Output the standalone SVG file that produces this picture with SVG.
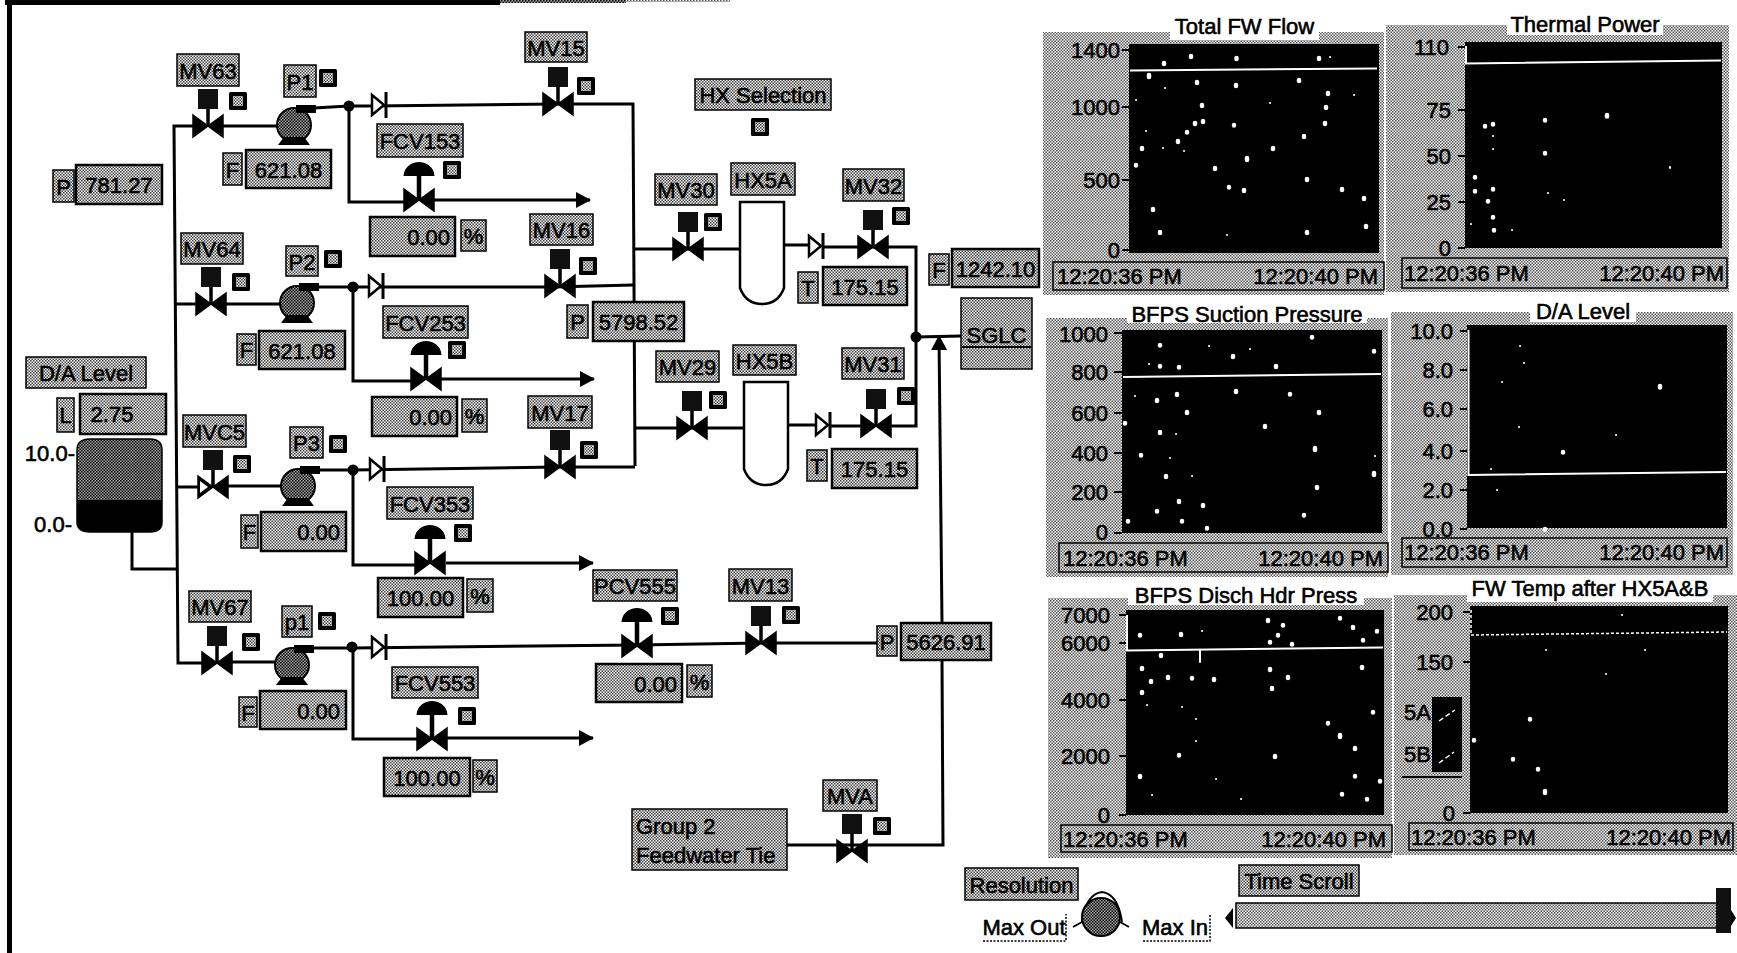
<svg xmlns="http://www.w3.org/2000/svg" xmlns:xlink="http://www.w3.org/1999/xlink" width="1737" height="953" viewBox="0 0 1737 953">
<style>
text{font-family:"Liberation Sans",Arial,sans-serif;font-size:22px;fill:#000;text-anchor:middle;dominant-baseline:central}
.t{stroke:#000;stroke-width:.6}
.e{text-anchor:end}
.s{text-anchor:start}
.l{fill:url(#d);stroke:#000;stroke-width:1.5}
.v{fill:url(#d);stroke:#000;stroke-width:2.5}
.pipe{fill:none;stroke:#000;stroke-width:3}
.arr{marker-end:url(#ah)}
.g{fill:url(#d2)}
.p{fill:#000}
.w{fill:none;stroke:#fff;stroke-width:2}
.dots{fill:none;stroke:#fff;stroke-width:4.5;stroke-linecap:round}
.sm{fill:none;stroke:#fff;stroke-width:2;stroke-linecap:round}
.tk{fill:none;stroke:#000;stroke-width:2}
.ttl{fill:#fff}
.ts{fill:none;stroke:#000;stroke-width:1.5}
</style>
<defs>
<pattern id="d" width="3" height="3" patternUnits="userSpaceOnUse"><rect width="3" height="3" fill="#fff"/><rect width="1.5" height="1.5" fill="#3c3c3c"/><rect x="1.5" y="1.5" width="1.5" height="1.5" fill="#3c3c3c"/></pattern>
<pattern id="d2" width="3" height="3" patternUnits="userSpaceOnUse"><rect width="3" height="3" fill="#fff"/><rect width="1.5" height="1.5" fill="#505050"/><rect x="1.5" y="1.5" width="1.5" height="1.5" fill="#505050"/></pattern>
<pattern id="d3" width="3" height="3" patternUnits="userSpaceOnUse"><rect width="3" height="3" fill="#a8a8a8"/><rect width="1.5" height="1.5" fill="#000"/><rect x="1.5" y="1.5" width="1.5" height="1.5" fill="#000"/></pattern>
<marker id="ah" markerUnits="userSpaceOnUse" markerWidth="16" markerHeight="18" refX="14" refY="8" orient="auto"><path d="M0 0L15 8L0 16Z" fill="#000"/></marker>
<g id="bow"><path d="M-15-11L0 0L-15 11ZM15-11L0 0L15 11Z" fill="#000" stroke="#000" stroke-width="1.5"/></g>
<g id="mv"><use href="#bow"/><path d="M0 0V-20" stroke="#000" stroke-width="3.5"/><rect x="-10" y="-37" width="20" height="20" fill="#111"/></g>
<g id="cv"><use href="#bow"/><path d="M0 0V-24" stroke="#000" stroke-width="4.5"/><path d="M-15.500-24C-15-34-6-38 0-38C6-38 15-34 15.500-24Z" fill="#000"/></g>
<g id="pump"><circle r="17" fill="url(#d3)" stroke="#000" stroke-width="2"/><rect x="2" y="-20" width="20" height="8" fill="#000"/><path d="M-10 12L10 12L16 20H-16Z" fill="#000"/></g>
<g id="chk"><path d="M-7-10L5 0L-7 10Z" fill="#fff" stroke="#000" stroke-width="2.500"/><path d="M7-13V13" stroke="#000" stroke-width="3"/></g>
<g id="sb"><rect width="18" height="18" rx="1.500" fill="#000"/><rect x="4" y="4" width="10" height="10" fill="url(#d)"/></g>
</defs>
<rect width="1737" height="953" fill="#fff"/>
<g id="frame"><rect x="7" y="0" width="5" height="953" fill="#000"/><rect x="5" y="0" width="495" height="5" fill="#000"/><rect x="500" y="0" width="126" height="3" fill="url(#d3)"/><rect x="626" y="0" width="104" height="2" fill="url(#d2)"/></g>

<g id="connectors">
<path class="pipe" d="M132 532V569H177"/>
<path class="pipe" d="M193 126H174L178 663H202"/>
<path class="pipe" d="M174 304H196"/><path class="pipe" d="M176 487H198"/>
<path class="pipe" d="M223 126H278"/><path class="pipe" d="M226 304H281"/><path class="pipe" d="M228 486H282"/><path class="pipe" d="M232 662H276"/>
<path class="pipe" d="M314 108L349 106H372L558 104H633L635 466"/>
<path class="pipe" d="M317 287H553L633 285"/>
<path class="pipe" d="M318 470H353L557 467H635"/>
<path class="pipe" d="M312 648H352L637 645L761 643H877"/>
<path class="pipe arr" d="M349 106V202H404M434 200H590"/>
<path class="pipe arr" d="M353 287V381H411M441 379H594"/>
<path class="pipe arr" d="M353 470V565H415M446 563H593"/>
<path class="pipe arr" d="M353 647V739H417M447 738H593"/>
<path class="pipe" d="M634 249H740"/><path class="pipe" d="M636 428H744"/>
<path class="pipe" d="M784 245H809M823 247H888H916V426H891"/><path class="pipe" d="M788 425H816M830 426H861"/>
<path class="pipe" d="M916 337L961 336"/>
<path class="pipe" d="M787 845H852H943L942 660"/>
<path class="pipe arr" d="M942 623L939 336"/>
</g>

<g id="pi-suction"><rect class="l" x="53" y="170" width="21" height="32"/><text class="t" x="63.500" y="187">P</text><rect class="v" x="76" y="165" width="86" height="39"/><text class="t" x="119" y="185">781.27</text></g>
<g id="da-tank">
<rect class="l" x="26" y="357" width="120" height="31"/><text class="t" x="86" y="373">D/A Level</text>
<rect class="l" x="57" y="398" width="17" height="34"/><text class="t" x="65.500" y="415">L</text>
<rect class="v" x="80" y="394" width="86" height="40"/><text class="t" x="112" y="414">2.75</text>
<text class="t e" x="75" y="453">10.0-</text><text class="t e" x="72" y="524">0.0-</text>
<path d="M77 450Q77 439 90 439H150Q162 439 162 450V522Q162 532 150 532H90Q77 532 77 522Z" fill="url(#d3)" stroke="#000" stroke-width="1.500"/>
<path d="M77 500H162V522Q162 532 150 532H90Q77 532 77 522Z" fill="#000"/>
</g>

<g id="mv63"><rect class="l" x="177" y="54" width="62" height="32"/><text class="t" x="208" y="71">MV63</text><use href="#mv" x="208" y="126"/><use href="#sb" x="229" y="92"/></g>
<g id="p1"><rect class="l" x="284" y="65" width="32" height="32"/><text class="t" x="300" y="82">P1</text><use href="#sb" x="319" y="69"/><use href="#pump" x="294" y="125"/></g>
<g id="f1"><rect class="l" x="223" y="153" width="19" height="32"/><text class="t" x="232.500" y="170">F</text><rect class="v" x="246" y="150" width="85" height="38"/><text class="t" x="288.500" y="170">621.08</text></g>
<g id="chk1"><use href="#chk" x="379" y="105"/><circle cx="349" cy="106" r="5.500"/></g>
<g id="fcv153"><rect class="l" x="377" y="124" width="86" height="33"/><text class="t" x="420" y="141">FCV153</text><use href="#cv" x="419" y="200"/><use href="#sb" x="443" y="161"/><rect class="v" x="370" y="217" width="85" height="39"/><text class="t e" x="450" y="237">0.00</text><rect class="l" x="461" y="220" width="25" height="31"/><text class="t" x="473.500" y="236">%</text></g>
<g id="mv15"><rect class="l" x="525" y="32" width="62" height="30"/><text class="t" x="556" y="48">MV15</text><use href="#mv" x="558" y="104"/><use href="#sb" x="577" y="77"/></g>

<g id="mv64"><rect class="l" x="181" y="233" width="62" height="31"/><text class="t" x="212" y="249">MV64</text><use href="#mv" x="211" y="304"/><use href="#sb" x="232" y="273"/></g>
<g id="p2"><rect class="l" x="286" y="246" width="32" height="30"/><text class="t" x="302" y="262">P2</text><use href="#sb" x="324" y="250"/><use href="#pump" x="297" y="303"/></g>
<g id="f2"><rect class="l" x="237" y="334" width="19" height="31"/><text class="t" x="246.500" y="350">F</text><rect class="v" x="259" y="331" width="86" height="38"/><text class="t" x="302" y="351">621.08</text></g>
<g id="chk2"><use href="#chk" x="376" y="286"/><circle cx="353" cy="287" r="5.500"/></g>
<g id="fcv253"><rect class="l" x="383" y="306" width="85" height="32"/><text class="t" x="425.500" y="323">FCV253</text><use href="#cv" x="426" y="379"/><use href="#sb" x="448" y="341"/><rect class="v" x="372" y="397" width="85" height="39"/><text class="t e" x="452" y="417">0.00</text><rect class="l" x="462" y="399" width="25" height="33"/><text class="t" x="474.500" y="416">%</text></g>
<g id="mv16"><rect class="l" x="530" y="214" width="63" height="31"/><text class="t" x="561.500" y="230">MV16</text><use href="#mv" x="560" y="286"/><use href="#sb" x="579" y="257"/></g>

<g id="mv65"><rect class="l" x="183" y="415" width="63" height="32"/><text class="t" x="214.500" y="432">MVC5</text><use href="#mv" x="213" y="487"/><path d="M200 481L208 487L200 493Z" fill="#fff"/><use href="#sb" x="233" y="455"/></g>
<g id="p3"><rect class="l" x="290" y="427" width="33" height="31"/><text class="t" x="306.500" y="443">P3</text><use href="#sb" x="329" y="435"/><use href="#pump" x="298" y="486"/></g>
<g id="f3"><rect class="l" x="241" y="515" width="17" height="33"/><text class="t" x="249.500" y="532">F</text><rect class="v" x="261" y="512" width="85" height="39"/><text class="t e" x="340" y="532">0.00</text></g>
<g id="chk3"><use href="#chk" x="377" y="469"/><circle cx="353" cy="470" r="5.500"/></g>
<g id="fcv353"><rect class="l" x="387" y="487" width="86" height="32"/><text class="t" x="430" y="504">FCV353</text><use href="#cv" x="430" y="563"/><use href="#sb" x="454" y="524"/><rect class="v" x="378" y="578" width="85" height="39"/><text class="t" x="420.500" y="598">100.00</text><rect class="l" x="467" y="579" width="26" height="33"/><text class="t" x="480" y="596">%</text></g>
<g id="mv17"><rect class="l" x="528" y="396" width="64" height="32"/><text class="t" x="560" y="413">MV17</text><use href="#mv" x="560" y="467"/><use href="#sb" x="580" y="441"/></g>

<g id="mv67"><rect class="l" x="189" y="591" width="62" height="31"/><text class="t" x="220" y="607">MV67</text><use href="#mv" x="217" y="663"/><use href="#sb" x="242" y="633"/></g>
<g id="p4"><rect class="l" x="282" y="606" width="30" height="31"/><text class="t" x="297" y="622">p1</text><use href="#sb" x="318" y="612"/><use href="#pump" x="292" y="665"/></g>
<g id="f4"><rect class="l" x="239" y="697" width="18" height="30"/><text class="t" x="248" y="713">F</text><rect class="v" x="260" y="691" width="86" height="38"/><text class="t e" x="340" y="711">0.00</text></g>
<g id="chk4"><use href="#chk" x="379" y="647"/><circle cx="352" cy="647" r="5.500"/></g>
<g id="fcv553"><rect class="l" x="392" y="667" width="86" height="31"/><text class="t" x="435" y="683">FCV553</text><use href="#cv" x="432" y="739"/><use href="#sb" x="458" y="707"/><rect class="v" x="384" y="758" width="86" height="38"/><text class="t" x="427" y="778">100.00</text><rect class="l" x="473" y="760" width="24" height="32"/><text class="t" x="485" y="777">%</text></g>

<g id="pcv555"><rect class="l" x="593" y="570" width="84" height="31"/><text class="t" x="635" y="586">PCV555</text><use href="#cv" x="637" y="646"/><use href="#sb" x="661" y="607"/><rect class="v" x="596" y="664" width="86" height="38"/><text class="t e" x="677" y="684">0.00</text><rect class="l" x="687" y="665" width="25" height="32"/><text class="t" x="699.500" y="682">%</text></g>
<g id="mv13"><rect class="l" x="729" y="569" width="63" height="32"/><text class="t" x="760.500" y="586">MV13</text><use href="#mv" x="761" y="643"/><use href="#sb" x="782" y="606"/></g>
<g id="p-hdr2"><rect class="l" x="877" y="626" width="20" height="30"/><text class="t" x="887" y="642">P</text><rect class="v" x="901" y="623" width="90" height="37"/><text class="t" x="946" y="642">5626.91</text></g>

<g id="group2"><rect class="l" x="632" y="809" width="155" height="61"/><text class="t s" x="636" y="826">Group  2</text><text class="t s" x="636" y="855">Feedwater Tie</text></g>
<g id="mva"><rect class="l" x="823" y="780" width="54" height="31"/><text class="t" x="850" y="796">MVA</text><use href="#mv" x="852" y="851"/><use href="#sb" x="873" y="817"/></g>

<g id="hx-selection"><rect class="l" x="695" y="79" width="136" height="31"/><text class="t" x="763" y="95">HX Selection</text><use href="#sb" x="751" y="118"/></g>
<g id="p-hdr"><rect class="l" x="567" y="305" width="21" height="33"/><text class="t" x="577.500" y="322">P</text><rect class="v" x="593" y="302" width="91" height="39"/><text class="t" x="638.500" y="322">5798.52</text></g>
<g id="mv30"><rect class="l" x="655" y="174" width="62" height="31"/><text class="t" x="686" y="190">MV30</text><use href="#mv" x="688" y="249"/><use href="#sb" x="704" y="213"/></g>
<g id="hx5a"><rect class="l" x="731" y="163" width="64" height="32"/><text class="t" x="763" y="180">HX5A</text><path d="M740 202H784V288Q778 304 762 304Q746 304 740 288Z" fill="#fff" stroke="#000" stroke-width="2.500"/></g>
<g id="chk5"><use href="#chk" x="816" y="246"/></g>
<g id="mv32"><rect class="l" x="843" y="169" width="61" height="32"/><text class="t" x="873.500" y="186">MV32</text><use href="#mv" x="873" y="247"/><use href="#sb" x="892" y="207"/></g>
<g id="t1"><rect class="l" x="798" y="272" width="20" height="31"/><text class="t" x="808" y="288">T</text><rect class="v" x="823" y="267" width="84" height="38"/><text class="t" x="865" y="287">175.15</text></g>
<g id="mv29"><rect class="l" x="656" y="351" width="63" height="31"/><text class="t" x="687.500" y="367">MV29</text><use href="#mv" x="692" y="428"/><use href="#sb" x="709" y="391"/></g>
<g id="hx5b"><rect class="l" x="733" y="345" width="63" height="30"/><text class="t" x="764.500" y="361">HX5B</text><path d="M744 382H788V469Q782 485 766 485Q750 485 744 469Z" fill="#fff" stroke="#000" stroke-width="2.500"/></g>
<g id="chk6"><use href="#chk" x="823" y="425"/></g>
<g id="mv31"><rect class="l" x="842" y="348" width="62" height="31"/><text class="t" x="873" y="364">MV31</text><use href="#mv" x="876" y="426"/><use href="#sb" x="897" y="387"/></g>
<g id="t2"><rect class="l" x="807" y="450" width="20" height="31"/><text class="t" x="817" y="466">T</text><rect class="v" x="832" y="449" width="85" height="39"/><text class="t" x="874.500" y="469">175.15</text></g>
<g id="f-total"><rect class="l" x="929" y="254" width="20" height="31"/><text class="t" x="939" y="270">F</text><rect class="v" x="952" y="249" width="87" height="38"/><text class="t" x="995.500" y="269">1242.10</text></g>
<g id="sglc"><rect class="l" x="961" y="298" width="71" height="71"/><path d="M962 347H1031" stroke="#000" stroke-width="2"/><text class="t" x="996.500" y="335">SGLC</text><circle cx="916" cy="337" r="5.500"/></g>

<g id="chart-fw-flow">
<rect class="g" x="1043" y="32" width="341" height="263"/><rect class="p" x="1129" y="44" width="250" height="209"/>
<path class="w" d="M1130 70.500L1377 68.500"/>
<path class="dots" d="M1164 63v1M1191 56v1M1236.500 58v1M1319 58v1M1149 75v2M1197 82v1M1236 85v1M1299 80v1M1328 93v1M1202 105v1M1326 107v1M1203 121v1M1195 123v1M1325 123v1M1234 125v.5M1187 132v.5M1304 136v1M1178 141v1M1142 148v1M1273 148v1M1247 158v2M1136 165v.5M1215 168v1M1307 179v1M1229 187v.5M1244 190v1M1342 189v1M1364 198v1M1153 209v1M1160 232v1M1307 232v1M1366 226v1"/>
<path class="sm" d="M1330 57h.1M1165 88h.1M1136 100h.1M1354 95h.1M1270 103h.1M1146 131h.1M1163 148h.1M1184 151h.1M1227 235h.1"/>
<rect class="ttl" x="1170" y="13" width="149" height="27"/><text class="t" x="1244.500" y="26">Total FW Flow</text>
<path class="tk" d="M1122 50h7M1122 107h7M1122 180h7M1122 250h7"/>
<text class="t e" x="1120" y="50">1400</text><text class="t e" x="1120" y="107">1000</text><text class="t e" x="1120" y="180">500</text><text class="t e" x="1120" y="250">0</text>
<rect class="ts" x="1053" y="262" width="331" height="28"/><text class="t s" x="1057" y="276">12:20:36 PM</text><text class="t e" x="1378" y="276">12:20:40 PM</text>
</g>

<g id="chart-thermal">
<rect class="g" x="1386" y="25" width="343" height="267"/><rect class="p" x="1465" y="42" width="257" height="206"/>
<path class="w" d="M1466 46V63.500L1721 60.500"/>
<path class="dots" d="M1607 115v1.500M1545 120v.5M1493 124v.5M1485 126v.5M1545 153v.5M1475 177v.5M1475 191v.5M1493 189v.5M1488 201v.5M1493 217v.5M1494 230v.5"/>
<path class="sm" d="M1493 136h.1M1493 149h.1M1670 167v1M1548 193h.1M1564 200h.1M1471 224h.1M1512 230h.1"/>
<rect class="ttl" x="1507" y="13" width="156" height="22"/><text class="t" x="1585" y="24">Thermal Power</text>
<path class="tk" d="M1458 47h7M1458 110h7M1458 156h7M1458 202h7M1458 248h7"/>
<text class="t e" x="1449" y="47">110</text><text class="t e" x="1451" y="110">75</text><text class="t e" x="1451" y="156">50</text><text class="t e" x="1451" y="202">25</text><text class="t e" x="1451" y="248">0</text>
<rect class="ts" x="1402" y="258" width="325" height="30"/><text class="t s" x="1404" y="273">12:20:36 PM</text><text class="t e" x="1724" y="273">12:20:40 PM</text>
</g>

<g id="chart-suction">
<rect class="g" x="1046" y="318" width="342" height="259"/><rect class="p" x="1122" y="330" width="260" height="203"/>
<path class="w" d="M1123 377L1381 374"/>
<path class="dots" d="M1312 337v.5M1160 345v.5M1233 356v1M1374 351v.5M1276 366v1M1160 366v.5M1179 367v.5M1236 391v1M1290 394v.5M1177 394v1M1157 400v1M1187 412v1M1319 412v1M1125 423v.5M1265 426v1M1160 432v1M1315 448v2M1141 455v.5M1374 473v2M1166 476v1M1317 487v1M1179 501v1M1203 505v1M1157 511v.5M1304 515v.5M1128 521v.5M1182 521v.5M1207 528v.5"/>
<path class="sm" d="M1209 346h.1M1250 349h.1M1149 364h.1M1135 396h.1M1176 434h.1M1375 456h.1M1170 458h.1M1192 476h.1"/>
<rect class="ttl" x="1127" y="302" width="240" height="21"/><text class="t" x="1247" y="314">BFPS Suction Pressure</text>
<path class="tk" d="M1114 333h8M1114 372h8M1114 413h8M1114 453h8M1114 492h8M1114 533h8"/>
<text class="t e" x="1108" y="334">1000</text><text class="t e" x="1108" y="372">800</text><text class="t e" x="1108" y="413">600</text><text class="t e" x="1108" y="453">400</text><text class="t e" x="1108" y="492">200</text><text class="t e" x="1108" y="532">0</text>
<rect class="ts" x="1059" y="543" width="329" height="29"/><text class="t s" x="1063" y="558">12:20:36 PM</text><text class="t e" x="1383" y="558">12:20:40 PM</text>
</g>

<g id="chart-da-level">
<rect class="g" x="1391" y="312" width="342" height="263"/><rect class="p" x="1467" y="325" width="260" height="203"/>
<path class="w" d="M1468.500 330V475L1726 472"/>
<path class="dots" d="M1660 386v1.500M1563 452v.5M1545 529v.5"/>
<path class="sm" d="M1520 346h.1M1524 363h.1M1502 382h.1M1519 427h.1M1616 435h.1M1491 469h.1M1497 490h.1"/>
<rect class="ttl" x="1530" y="300" width="106" height="22"/><text class="t" x="1583" y="311">D/A Level</text>
<path class="tk" d="M1460 331h7M1460 370h7M1460 409h7M1460 451h7M1460 490h7M1460 529h7"/>
<text class="t e" x="1453" y="331">10.0</text><text class="t e" x="1453" y="370">8.0</text><text class="t e" x="1453" y="409">6.0</text><text class="t e" x="1453" y="451">4.0</text><text class="t e" x="1453" y="490">2.0</text><text class="t e" x="1453" y="529">0.0</text>
<rect class="ts" x="1402" y="538" width="325" height="29"/><text class="t s" x="1404" y="552">12:20:36 PM</text><text class="t e" x="1724" y="552">12:20:40 PM</text>
</g>

<g id="chart-disch">
<rect class="g" x="1048" y="598" width="344" height="260"/><rect class="p" x="1126" y="610" width="258" height="205"/>
<path class="w" d="M1127 615V650.500L1383 647.500"/>
<path class="dots" d="M1268 620v1M1340 618v.5M1283 625v.5M1353 627v1M1377 631v.5M1140 635v.5M1181 634v1M1278 635v.5M1363 640v.5M1270 642v.5M1292 644v.5M1161 655v1M1142 668v1M1362 667v1M1270 669v1M1288 677v1M1151 681v1M1168 677v1M1192 678v.5M1214 679v1M1272 688v1M1142 692v1M1373 712v.5M1328 723v.5M1340 735v2M1355 748v1M1179 755v.5M1275 756v1M1140 776v1M1355 776v.5M1380 781v.5M1342 794v.5M1367 799v.5"/>
<path class="sm" d="M1202 631h.1M1147 705h.1M1182 707h.1M1196 719h.1M1196 741h.1M1216 779h.1M1152 795h.1M1241 799h.1M1200 650v12"/>
<rect class="ttl" x="1128" y="583" width="236" height="22"/><text class="t" x="1246" y="595">BFPS Disch Hdr Press</text>
<path class="tk" d="M1119 615h7M1119 643h7M1119 700h7M1119 756h7M1119 815h7"/>
<text class="t e" x="1110" y="615">7000</text><text class="t e" x="1110" y="643">6000</text><text class="t e" x="1110" y="700">4000</text><text class="t e" x="1110" y="756">2000</text><text class="t e" x="1110" y="815">0</text>
<rect class="ts" x="1061" y="825" width="331" height="27"/><text class="t s" x="1063" y="839">12:20:36 PM</text><text class="t e" x="1386" y="839">12:20:40 PM</text>
</g>

<g id="chart-fw-temp">
<rect class="g" x="1394" y="595" width="343" height="260"/><rect class="p" x="1470" y="606" width="258" height="207"/>
<path fill="none" stroke="#fff" stroke-width="1.500" stroke-dasharray="3 2" d="M1471 610V635L1727 632"/>
<path class="dots" d="M1530 719v.5M1474 740v.5M1513 759v.5M1538 769v.5M1545 791v2"/>
<path class="sm" d="M1622 615h.1M1546 650h.1M1645 650h.1M1606 674h.1"/>
<rect class="ttl" x="1467" y="575" width="246" height="27"/><text class="t" x="1590" y="588">FW Temp after HX5A&amp;B</text>
<path class="tk" d="M1463 612h7M1463 662h7M1463 813h7"/>
<text class="t e" x="1453" y="612">200</text><text class="t e" x="1453" y="662">150</text><text class="t e" x="1455" y="813">0</text>
<rect class="p" x="1432" y="697" width="30" height="75"/>
<path fill="none" stroke="#fff" stroke-width="1.500" stroke-dasharray="5 3" d="M1439 721L1455 710M1439 763L1454 752"/>
<path d="M1402 777H1462" stroke="#000" stroke-width="2"/>
<text class="t e" x="1431" y="712">5A</text><text class="t e" x="1431" y="754">5B</text>
<rect class="ts" x="1409" y="823" width="324" height="27"/><text class="t s" x="1411" y="837">12:20:36 PM</text><text class="t e" x="1731" y="837">12:20:40 PM</text>
</g>

<g id="resolution">
<rect class="l" x="965" y="868" width="113" height="32"/><text class="t" x="1021.500" y="885">Resolution</text>
<text class="t" x="1024" y="927">Max Out</text><path d="M983 941H1066V914" fill="none" stroke="#000" stroke-width="1.500" stroke-dasharray="2 1.500"/>
<path d="M1082 922Q1086 894 1102 892Q1118 894 1122 922" fill="none" stroke="#000" stroke-width="2"/>
<circle cx="1101" cy="917" r="19" fill="url(#d3)" stroke="#000" stroke-width="2"/>
<path d="M1073 927L1082 922M1120 922L1129 927" stroke="#000" stroke-width="2"/>
<text class="t" x="1175" y="927">Max In</text><path d="M1143 941H1210V914" fill="none" stroke="#000" stroke-width="1.500" stroke-dasharray="2 1.500"/>
</g>

<g id="time-scroll">
<rect class="l" x="1239" y="865" width="120" height="31"/><text class="t" x="1299" y="881">Time Scroll</text>
<path d="M1225 918L1233 908V928Z" fill="#000"/>
<rect class="g" x="1236" y="903" width="481" height="25" stroke="#000" stroke-width="1.500"/>
<rect x="1716" y="888" width="15" height="45" fill="#111"/><path d="M1731 910L1736 918L1731 926Z" fill="#000"/>
</g>
</svg>
